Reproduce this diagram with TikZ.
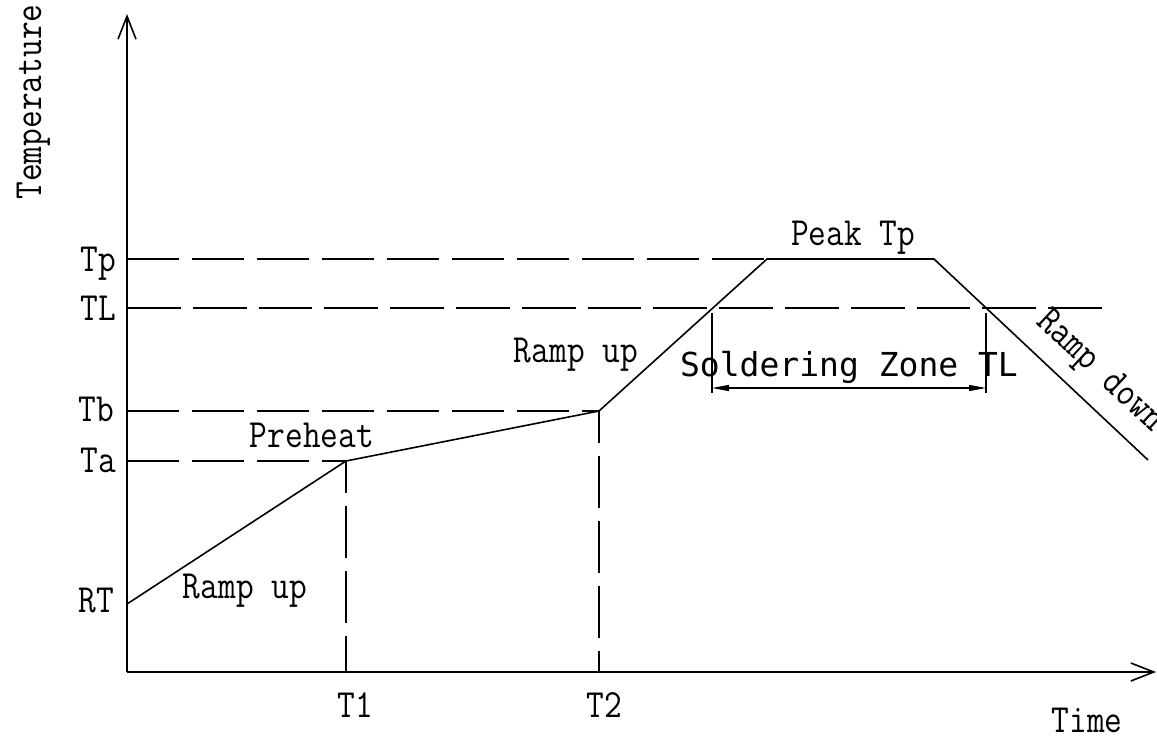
\documentclass[tikz,border=0pt]{standalone}
\usepackage{fontspec}
\usetikzlibrary{arrows.meta}
\newfontfamily\labfont[FakeStretch=0.86]{Latin Modern Mono}
\newfontfamily\cadfont{DejaVu Sans Mono}
\begin{document}
\begin{tikzpicture}[x=1pt,y=-1pt,
  axis/.style={line width=1.6pt,-{Straight Barb[length=23pt,width=18pt,line width=1.6pt]}},
  prof/.style={line width=1.6pt,line join=miter},
  guide/.style={line width=1.6pt,dash pattern=on 52pt off 13pt},
  vguide/.style={guide,dash phase=20pt},
  longguide/.style={line width=1.6pt,dash pattern=on 53.8pt off 12pt},
  zone/.style={line width=1.2pt},
  dim/.style={line width=1.2pt,{Triangle[length=17pt,width=6pt]}-{Triangle[length=17pt,width=6pt]}},
  lab/.style={font=\labfont\fontsize{40}{44}\selectfont,inner sep=0pt},
  cad/.style={font=\cadfont\fontsize{33}{36}\selectfont,inner sep=0pt}]
\useasboundingbox (0,0) rectangle (1157,739);
% key points
\coordinate (O) at (127,672);
\coordinate (ytip) at (127,14);
\coordinate (xtip) at (1156,672);
\coordinate (RT) at (127,604);
\coordinate (A) at (346,461);
\coordinate (B) at (599,411);
\coordinate (C) at (767,259);
\coordinate (D) at (934,259);
\coordinate (E) at (1148,460);
\coordinate (T1) at (346,672);
\coordinate (T2) at (599,672);
\coordinate (TpL) at (127,259);
\coordinate (TLL) at (127,308);
\coordinate (TLR) at (1102,308);
\coordinate (TbL) at (127,411);
\coordinate (TaL) at (127,461);
\coordinate (Z1t) at (712,313);
\coordinate (Z1b) at (712,393);
\coordinate (Z2t) at (986,313);
\coordinate (Z2b) at (986,393);
\coordinate (Z1a) at (712,388);
\coordinate (Z2a) at (986,388);
% guides
\draw[guide] (TpL) -- (C);
\draw[longguide] (TLL) -- (TLR);
\draw[guide] (TbL) -- (B);
\draw[guide] (TaL) -- (A);
\draw[vguide] (A) -- (T1);
\draw[vguide] (B) -- (T2);
% axes
\draw[axis] (O) -- (ytip);
\draw[axis] (O) -- (xtip);
% profile
\draw[prof] (RT) -- (A) -- (B) -- (C) -- (D) -- (E);
% soldering zone
\draw[zone] (Z1t) -- (Z1b);
\draw[zone] (Z2t) -- (Z2b);
\draw[dim] (Z1a) -- (Z2a);
% labels
\node[lab,rotate=90,anchor=base] (ttemp) at (41,102) {Temperature};
\node[lab,anchor=base] (ttime) at (1087,732) {Time};
\node[lab,anchor=base east] (tTp) at (116,271) {Tp};
\node[lab,anchor=base east] (tTL) at (116,320) {TL};
\node[lab,anchor=base east] (tTb) at (114,421) {Tb};
\node[lab,anchor=base east] (tTa) at (116,472) {Ta};
\node[lab,anchor=base east] (tRT) at (114,612) {RT};
\node[lab,anchor=base] (tT1) at (355,717) {T1};
\node[lab,anchor=base] (tT2) at (604,717) {T2};
\node[lab,anchor=base] (tpeak) at (853,245) {Peak Tp};
\node[lab,anchor=base] (tru2) at (576,362) {Ramp up};
\node[lab,anchor=base] (tpre) at (312,447) {Preheat};
\node[lab,anchor=base] (tru1) at (245,598) {Ramp up};
\node[lab,anchor=base,rotate=-43] (trd) at (1094,378) {Ramp down};
\node[cad,anchor=base] (tzone) at (849,376) {Soldering Zone TL};
\end{tikzpicture}
\end{document}
